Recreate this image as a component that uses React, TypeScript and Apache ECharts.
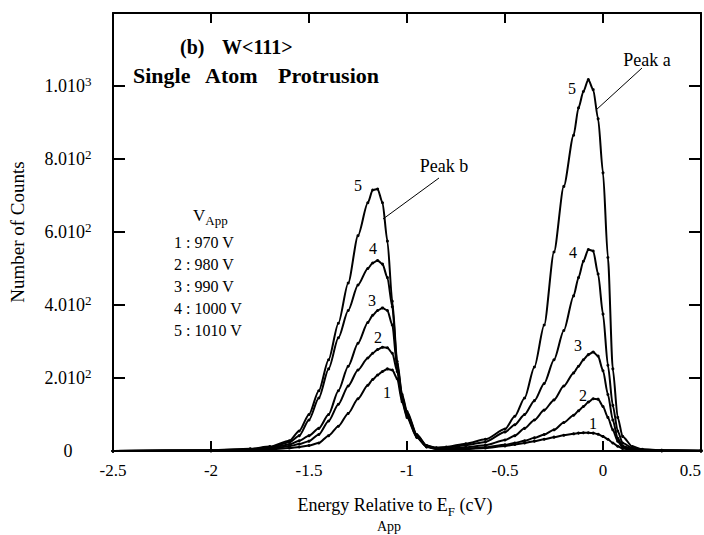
import React, { useEffect, useRef } from "react";
import * as echarts from "echarts";

const FONT = "Liberation Serif";

// Energy relative to E_F (eV)
const energy = [
  -2.5, -2.0, -1.8, -1.7, -1.6, -1.55, -1.5, -1.45, -1.4, -1.35, -1.3, -1.25, -1.2, -1.175, -1.15, -1.125,
  -1.1, -1.075, -1.05, -1.025, -1.0, -0.95, -0.9, -0.85, -0.8, -0.7, -0.6, -0.5, -0.45, -0.4, -0.35, -0.3,
  -0.25, -0.2, -0.15, -0.125, -0.1, -0.075, -0.05, -0.025, 0, 0.025, 0.05, 0.075, 0.1, 0.15, 0.2, 0.3, 0.5,
];

// Number of counts for each applied voltage
const counts970 = [
  0, 1, 2, 4, 8, 11, 15, 22, 42, 68, 103, 143, 180, 196, 208, 218,
  225, 222, 198, 135, 92, 37, 11, 5, 5, 5, 8, 14, 18, 22, 27, 32,
  38, 43, 47, 49, 50, 50, 49, 46, 40, 32, 22, 13, 7, 3, 2, 1, 0,
];
const counts980 = [
  0, 1, 3, 6, 13, 19, 27, 45, 82, 128, 178, 222, 255, 268, 278, 284,
  283, 268, 218, 140, 96, 39, 12, 6, 6, 7, 10, 17, 22, 28, 36, 45,
  58, 78, 98, 110, 122, 134, 143, 142, 122, 92, 58, 27, 10, 4, 2, 1, 0,
];
const counts990 = [
  0, 1, 4, 8, 18, 28, 42, 62, 100, 165, 232, 295, 352, 372, 385, 392,
  385, 345, 228, 145, 100, 41, 13, 7, 7, 10, 16, 30, 42, 62, 85, 112,
  140, 178, 214, 232, 250, 264, 271, 260, 220, 155, 85, 35, 14, 5, 3, 1, 1,
];
const counts1000 = [
  0, 2, 5, 10, 24, 42, 85, 145, 225, 310, 385, 455, 500, 515, 522, 512,
  475, 395, 238, 150, 104, 43, 14, 8, 9, 16, 25, 52, 72, 100, 138, 185,
  250, 330, 425, 475, 520, 552, 548, 485, 375, 235, 125, 55, 22, 8, 4, 2, 1,
];
const counts1010 = [
  0, 2, 6, 12, 28, 55, 100, 165, 250, 350, 460, 590, 680, 715, 718, 680,
  575, 410, 245, 155, 108, 45, 15, 9, 11, 20, 32, 60, 95, 145, 230, 345,
  545, 725, 865, 940, 985, 1018, 990, 910, 762, 530, 225, 92, 40, 12, 5, 2, 1,
];

const curves = [counts970, counts980, counts990, counts1000, counts1010];
const legendLines = ["1 : 970 V", "2 : 980 V", "3 : 990 V", "4 : 1000 V", "5 : 1010 V"];
const curveNumbers = ["1", "2", "3", "4", "5"];
const yTickValues = [0, 200, 400, 600, 800, 1000];

export default function App() {
  const ref = useRef<HTMLDivElement>(null);

  useEffect(() => {
    document.body.style.margin = "0";
    if (!ref.current) return;
    const chart = echarts.init(ref.current, null, { renderer: "svg" });

    const axisLine = { onZero: false, lineStyle: { color: "#000", width: 2 } };
    const tickStyle = { color: "#000", width: 2 };

    const series: any[] = curves.map((c, k) => ({
      name: legendLines[k],
      type: "line",
      xAxisIndex: 0,
      yAxisIndex: 0,
      data: energy.map((x, i) => [x, c[i]]),
      smooth: 0.25,
      smoothMonotone: "x",
      symbol: "circle",
      symbolSize: 3,
      showSymbol: true,
      lineStyle: { color: "#000", width: 2 },
      itemStyle: { color: "#000" },
      z: 3,
    }));

    const txt = (text: string, x: number, y: number, size: number, extra: any = {}) => ({
      type: "text",
      x,
      y,
      scaleX: extra.scaleX || 1,
      style: {
        text,
        fill: "#000",
        font: `${extra.bold ? "bold " : ""}${size}px '${FONT}'`,
        textAlign: extra.align || "center",
        textVerticalAlign: "middle",
        ...(extra.rich ? { rich: extra.rich } : {}),
      },
      z: 10,
    });

    const graphics: any[] = [
      txt("(b)", 180, 47, 20, { bold: true, align: "left" }),
      txt("W<111>", 222, 47, 20, { bold: true, align: "left" }),
      txt("Single", 133, 76, 20, { bold: true, align: "left", scaleX: 1.1 }),
      txt("Atom", 205, 76, 20, { bold: true, align: "left", scaleX: 1.1 }),
      txt("Protrusion", 278, 76, 20, { bold: true, align: "left", scaleX: 1.1 }),
      txt("V{sub|App}", 193, 215, 17, {
        align: "left",
        rich: { sub: { fontSize: 13, fontFamily: FONT, padding: [10, 0, 0, 0] } },
      }),
      ...legendLines.map((l, i) => txt(l, 174, 242 + i * 22.2, 16, { align: "left" })),
      // curve numbers, peak b
      txt(curveNumbers[4], 358, 185, 16),
      txt(curveNumbers[3], 373, 248, 16),
      txt(curveNumbers[2], 372, 300, 16),
      txt(curveNumbers[1], 378, 337, 16),
      txt(curveNumbers[0], 387, 392, 16),
      // curve numbers, peak a
      txt(curveNumbers[4], 572, 88, 16),
      txt(curveNumbers[3], 573, 252, 16),
      txt(curveNumbers[2], 578, 345, 16),
      txt(curveNumbers[1], 583, 395, 16),
      txt(curveNumbers[0], 593, 423, 16),
      txt("Peak a", 647, 60, 18),
      txt("Peak b", 444, 166, 18),
      {
        type: "line",
        shape: { x1: 642, y1: 68, x2: 596, y2: 110 },
        style: { stroke: "#000", lineWidth: 1 },
        z: 10,
      },
      {
        type: "line",
        shape: { x1: 439, y1: 178, x2: 383, y2: 219 },
        style: { stroke: "#000", lineWidth: 1 },
        z: 10,
      },
      txt("Energy Relative to E{sub|F} (cV)", 395, 505, 18, {
        rich: { sub: { fontSize: 13, fontFamily: FONT, padding: [12, 0, 0, 0] } },
      }),
      txt("App", 389, 526, 14),
    ];

    const option: any = {
      animation: false,
      backgroundColor: "#fff",
      grid: { left: 110, right: 3, top: 13, bottom: 84 },
      xAxis: [
        {
          type: "value",
          position: "bottom",
          min: -2.5,
          max: 0.5,
          interval: 0.5,
          axisLine,
          axisTick: { inside: true, length: 10, customValues: [-2, -1, 0], lineStyle: tickStyle },
          axisLabel: {
            color: "#000",
            fontFamily: FONT,
            fontSize: 17,
            margin: 11,
            alignMaxLabel: "right",
          },
          splitLine: { show: false },
        },
        {
          type: "value",
          position: "top",
          min: -2.5,
          max: 0.5,
          interval: 0.5,
          axisLine,
          axisTick: { inside: true, length: 10, lineStyle: tickStyle },
          axisLabel: { show: false },
          splitLine: { show: false },
        },
      ],
      yAxis: [
        {
          type: "value",
          position: "left",
          min: 0,
          max: 1200,
          interval: 200,
          name: "Number of Counts",
          nameLocation: "middle",
          nameGap: 86,
          nameRotate: 90,
          nameTextStyle: { color: "#000", fontFamily: FONT, fontSize: 19 },
          axisLine,
          axisTick: { inside: true, length: 12, lineStyle: tickStyle },
          axisLabel: {
            color: "#000",
            fontFamily: FONT,
            fontSize: 18,
            align: "center",
            margin: 45,
            formatter: (v: number) => {
              if (!yTickValues.includes(v)) return "";
              if (v === 0) return "{m|0}";
              const exp = v >= 1000 ? 3 : 2;
              const mant = (v / Math.pow(10, exp)).toFixed(1);
              return `{m|${mant}10}{s|${exp}}`;
            },
            rich: {
              m: { fontSize: 18, fontFamily: FONT, color: "#000", lineHeight: 22 },
              s: { fontSize: 13, fontFamily: FONT, color: "#000", lineHeight: 13, verticalAlign: "top" },
            },
          },
          splitLine: { show: false },
        },
        {
          type: "value",
          position: "right",
          min: 0,
          max: 1200,
          interval: 200,
          axisLine,
          axisTick: { inside: true, length: 12, lineStyle: tickStyle },
          axisLabel: { show: false },
          splitLine: { show: false },
        },
      ],
      series,
      graphic: graphics,
    };

    chart.setOption(option);
    return () => chart.dispose();
  }, []);

  return <div ref={ref} style={{ width: 704, height: 535 }} />;
}
